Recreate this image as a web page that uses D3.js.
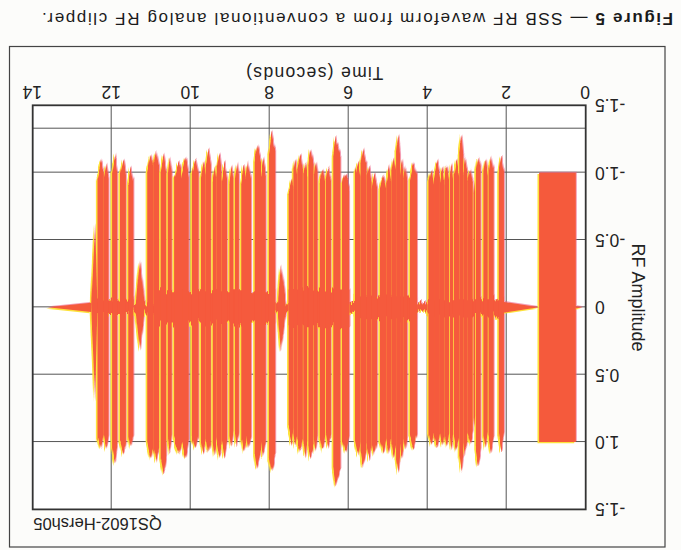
<!DOCTYPE html>
<html>
<head>
<meta charset="utf-8">
<script src="https://cdn.jsdelivr.net/npm/d3@7"></script>
<style>
  html, body { margin: 0; padding: 0; background: #fcfcfa; }
  svg { display: block; font-family: "Liberation Sans", Arial, Helvetica, sans-serif; }
</style>
</head>
<body>
<svg id="chart" width="681" height="550"></svg>
<script>
// ---- axes ----
const timeTicks = [0, 2, 4, 6, 8, 10, 12, 14];
const ampTicks = [-1.5, -1, -0.5, 0, 0.5, 1, 1.5];
const ampTickLabels = ["-1.5", "-1.0", "-0.5", "0", "0.5", "1.0", "-1.5"];
const guideLevels = [-1.33];

// ---- waveform envelope (seconds, RF amplitude) ----
// steady test tone at the start
const toneSpan = [0.25, 1.18];
const toneLevel = [-1.0, 1.0];
// decaying tails: [time at zero, time at full width, half-width]
const tails = [
  [0.08, 0.25, 0.008],
  [1.18, 2.07, 0.04],
  [13.62, 12.52, 0.035]
];
// dense carrier band under the speech: [start, end, half-width]
const floors = [
  [2.07, 4.00, 0.06],
  [4.00, 4.27, 0.03],
  [4.27, 5.84, 0.08],
  [5.84, 5.98, 0.04],
  [5.98, 7.52, 0.14],
  [7.52, 7.86, 0.03],
  [7.86, 10.85, 0.12],
  [10.85, 11.45, 0.03],
  [11.45, 12.40, 0.05]
];
// speech bursts: [start, end, time of peak, negative peak, positive peak]
const bursts = [
  [2.07, 2.20, 2.14, -1.11, 1.06],
  [2.33, 2.46, 2.40, -1.13, 1.08],
  [2.48, 2.59, 2.53, -1.10, 1.05],
  [2.66, 2.78, 2.72, -1.12, 1.18],
  [2.80, 2.84, 2.82, -0.95, 0.90],
  [2.86, 3.00, 2.93, -1.04, 1.02],
  [3.00, 3.10, 3.06, -1.10, 1.10],
  [3.10, 3.20, 3.14, -1.28, 1.22],
  [3.20, 3.34, 3.27, -1.08, 1.07],
  [3.36, 3.44, 3.40, -1.05, 1.06],
  [3.46, 3.58, 3.52, -1.06, 1.05],
  [3.58, 3.69, 3.63, -1.03, 1.04],
  [3.69, 3.84, 3.76, -1.07, 1.05],
  [3.84, 3.98, 3.90, -1.02, 1.03],
  [4.27, 4.45, 4.36, -1.07, 1.06],
  [4.52, 4.62, 4.57, -1.04, 1.08],
  [4.62, 4.70, 4.66, -1.12, 1.12],
  [4.70, 4.80, 4.74, -1.29, 1.23],
  [4.80, 4.92, 4.86, -1.12, 1.12],
  [4.92, 5.05, 4.98, -1.03, 1.09],
  [5.05, 5.21, 5.12, -0.98, 1.08],
  [5.28, 5.42, 5.35, -1.00, 1.10],
  [5.42, 5.55, 5.48, -1.06, 1.12],
  [5.55, 5.70, 5.64, -1.18, 1.18],
  [5.70, 5.84, 5.76, -1.08, 1.10],
  [5.99, 6.17, 6.08, -1.00, 1.08],
  [6.21, 6.39, 6.33, -1.26, 1.33],
  [6.45, 6.58, 6.52, -1.04, 1.05],
  [6.60, 6.73, 6.66, -1.04, 1.06],
  [6.79, 6.88, 6.84, -1.09, 1.07],
  [6.89, 7.02, 6.97, -1.17, 1.12],
  [7.05, 7.15, 7.10, -1.10, 1.10],
  [7.16, 7.30, 7.22, -1.14, 1.08],
  [7.30, 7.40, 7.35, -1.10, 1.05],
  [7.40, 7.52, 7.44, -0.95, 1.00],
  [7.86, 8.02, 7.95, -1.29, 1.23],
  [8.10, 8.22, 8.17, -1.09, 1.10],
  [8.22, 8.38, 8.32, -1.22, 1.19],
  [8.47, 8.60, 8.55, -1.08, 1.06],
  [8.60, 8.72, 8.66, -1.04, 1.08],
  [8.78, 8.88, 8.83, -1.07, 1.02],
  [8.92, 9.02, 8.97, -1.04, 1.05],
  [9.08, 9.22, 9.15, -1.06, 1.11],
  [9.22, 9.34, 9.27, -1.14, 1.12],
  [9.34, 9.44, 9.39, -1.04, 1.10],
  [9.49, 9.62, 9.56, -1.16, 1.10],
  [9.62, 9.74, 9.68, -1.10, 1.08],
  [9.80, 9.97, 9.88, -1.09, 1.06],
  [10.05, 10.22, 10.12, -1.10, 1.12],
  [10.22, 10.42, 10.30, -1.08, 1.10],
  [10.48, 10.58, 10.53, -1.10, 1.09],
  [10.62, 10.76, 10.68, -1.13, 1.24],
  [10.80, 10.95, 10.88, -1.17, 1.15],
  [10.95, 11.10, 11.02, -1.14, 1.13],
  [11.45, 11.58, 11.52, -1.04, 1.06],
  [11.64, 11.79, 11.70, -1.10, 1.11],
  [11.86, 11.99, 11.92, -1.13, 1.16],
  [12.08, 12.20, 12.14, -1.07, 1.05],
  [12.20, 12.36, 12.27, -1.08, 1.06]
];
// short low-level swells: [start, end, time of peak, negative peak, positive peak]
const swells = [
  [7.58, 7.80, 7.72, -0.33, 0.33],
  [11.16, 11.40, 11.28, -0.35, 0.33],
  [12.36, 12.52, 12.42, -0.62, 0.70]
];

// ---- layout ----
const W = 681, H = 550;
const plot = { left: 95.3, right: 648.3, top: 40.6, bottom: 444.7 };
const EDGE = 0.9; // burst shoulder relative to its peak

const svg = d3.select("#chart");
svg.append("rect").attr("width", W).attr("height", H).attr("fill", "#fcfcfa");

// rough edge of the dense RF fill: vertical streak noise used as a y-displacement map
const defs = svg.append("defs");
const rough = defs.append("filter").attr("id", "rfEdge")
  .attr("filterUnits", "userSpaceOnUse")
  .attr("x", 60).attr("y", 0).attr("width", 620).attr("height", 490);
rough.append("feTurbulence").attr("type", "fractalNoise")
  .attr("baseFrequency", "0.55 0.012").attr("numOctaves", 2).attr("seed", 3)
  .attr("result", "noise");
rough.append("feColorMatrix").attr("in", "noise").attr("type", "matrix")
  .attr("values", "0 0 0 0 0.5  0 1 0 0 0  0 0 0 0 0  0 0 0 0 1")
  .attr("result", "map");
rough.append("feDisplacementMap").attr("in", "SourceGraphic").attr("in2", "map")
  .attr("scale", 16).attr("xChannelSelector", "R").attr("yChannelSelector", "G");

// the printed figure sits upside down on the page
const root = svg.append("g").attr("transform", `rotate(180 ${W / 2} ${H / 2})`);

const x = d3.scaleLinear().domain([0, 14]).range([plot.left, plot.right]);
const y = d3.scaleLinear().domain([-1.5, 1.5]).range([plot.bottom, plot.top]);
const plotW = plot.right - plot.left, plotH = plot.bottom - plot.top;

// outer frame
root.append("rect")
  .attr("x", 16).attr("y", 3).attr("width", 655.5).attr("height", 500.5)
  .attr("fill", "none").attr("stroke", "#444").attr("stroke-width", 1.2);

root.append("rect")
  .attr("x", plot.left).attr("y", plot.top).attr("width", plotW).attr("height", plotH)
  .attr("fill", "#ffffff");

// grid via axes
const xAxis = d3.axisBottom(x).tickValues(timeTicks).tickFormat(d3.format("d"))
  .tickSize(-plotH).tickPadding(7);
const gx = root.append("g").attr("transform", `translate(0,${plot.bottom})`).call(xAxis);
gx.select(".domain").remove();
gx.selectAll(".tick line").attr("stroke", "#555").attr("stroke-width", 1)
  .attr("opacity", d => (d === 0 || d === 14) ? 0 : 1);
gx.selectAll(".tick text").attr("font-size", 17.5).attr("fill", "#222")
  .attr("font-family", "Liberation Sans, Arial, sans-serif");

const yAxis = d3.axisLeft(y).tickValues(ampTicks).tickFormat((d, i) => ampTickLabels[i])
  .tickSize(-plotW).tickPadding(9.3);
const gy = root.append("g").attr("transform", `translate(${plot.left},0)`).call(yAxis);
gy.select(".domain").remove();
gy.selectAll(".tick line").attr("stroke", "#555").attr("stroke-width", 1)
  .attr("opacity", d => (d === -1.5 || d === 1.5) ? 0 : 1);
gy.selectAll(".tick text").attr("font-size", 17.5).attr("fill", "#222")
  .attr("font-family", "Liberation Sans, Arial, sans-serif");

root.append("g").selectAll("line").data(guideLevels).join("line")
  .attr("x1", plot.left).attr("x2", plot.right)
  .attr("y1", d => y(d)).attr("y2", d => y(d))
  .attr("stroke", "#555").attr("stroke-width", 1);

// ---- waveform ----
const poly = d3.line().x(p => x(p[0])).y(p => y(p[1]));
const plain = [];   // clean-edged marks: tone block and decaying tails
const speech = [];  // speech envelope with a ragged edge
plain.push([[toneSpan[0], toneLevel[0]], [toneSpan[1], toneLevel[0]], [toneSpan[1], toneLevel[1]], [toneSpan[0], toneLevel[1]]]);
tails.forEach(([t0, t1, a]) => plain.push([[t0, 0], [t1, -a], [t1, a]]));
floors.forEach(([t0, t1, a]) => speech.push([[t0, -a], [t1, -a], [t1, a], [t0, a]]));
bursts.forEach(([t0, t1, tp, lo, hi]) => speech.push([
  [t0, 0], [t0, lo * EDGE], [tp, lo], [t1, lo * EDGE], [t1, 0],
  [t1, hi * EDGE], [tp, hi], [t0, hi * EDGE]
]));
swells.forEach(([t0, t1, tp, lo, hi]) => speech.push([[t0, 0], [tp, lo], [t1, 0], [tp, hi]]));

root.append("clipPath").attr("id", "plotClip").append("rect")
  .attr("x", plot.left).attr("y", plot.top).attr("width", plotW).attr("height", plotH);

function drawWave(fill, dx, dy, opacity) {
  const layer = root.append("g")
    .attr("clip-path", "url(#plotClip)")
    .append("g")
    .attr("transform", `translate(${dx},${dy})`)
    .attr("opacity", opacity);
  layer.append("g").selectAll("path").data(plain).join("path")
    .attr("d", s => poly(s) + "Z").attr("fill", fill);
  layer.append("g").attr("filter", "url(#rfEdge)")
    .selectAll("path").data(speech).join("path")
    .attr("d", s => poly(s) + "Z").attr("fill", fill);
}
drawWave("#ee5f86", -1.0, 1.0, 0.6);   // magenta plate
drawWave("#fde23c", 1.6, -1.3, 1.0);   // yellow plate
drawWave("#f55a3c", 0, 0, 1.0);        // combined ink

// plot border
root.append("rect")
  .attr("x", plot.left).attr("y", plot.top).attr("width", plotW).attr("height", plotH)
  .attr("fill", "none").attr("stroke", "#333").attr("stroke-width", 1.8);

// ---- texts ----
const title = root.append("text")
  .attr("x", 8).attr("y", 536.7).attr("font-size", 17).attr("fill", "#1a1a1a")
  .attr("textLength", 631).attr("lengthAdjust", "spacing");
title.append("tspan").attr("font-weight", "bold").text("Figure 5");
title.append("tspan").text(" \u2014 SSB RF waveform from a conventional analog RF clipper.");

root.append("text")
  .attr("x", 366.3).attr("y", 483.3).attr("text-anchor", "middle")
  .attr("font-size", 17.5).attr("fill", "#222")
  .attr("textLength", 137).attr("lengthAdjust", "spacing")
  .text("Time (seconds)");

root.append("text")
  .attr("transform", "translate(49,252.5) rotate(-90)")
  .attr("text-anchor", "middle").attr("font-size", 18).attr("fill", "#222")
  .text("RF Amplitude");

root.append("text")
  .attr("x", 647.7).attr("y", 32).attr("text-anchor", "end")
  .attr("font-size", 16.5).attr("fill", "#222")
  .text("QS1602-Hersh05");
</script>
</body>
</html>
